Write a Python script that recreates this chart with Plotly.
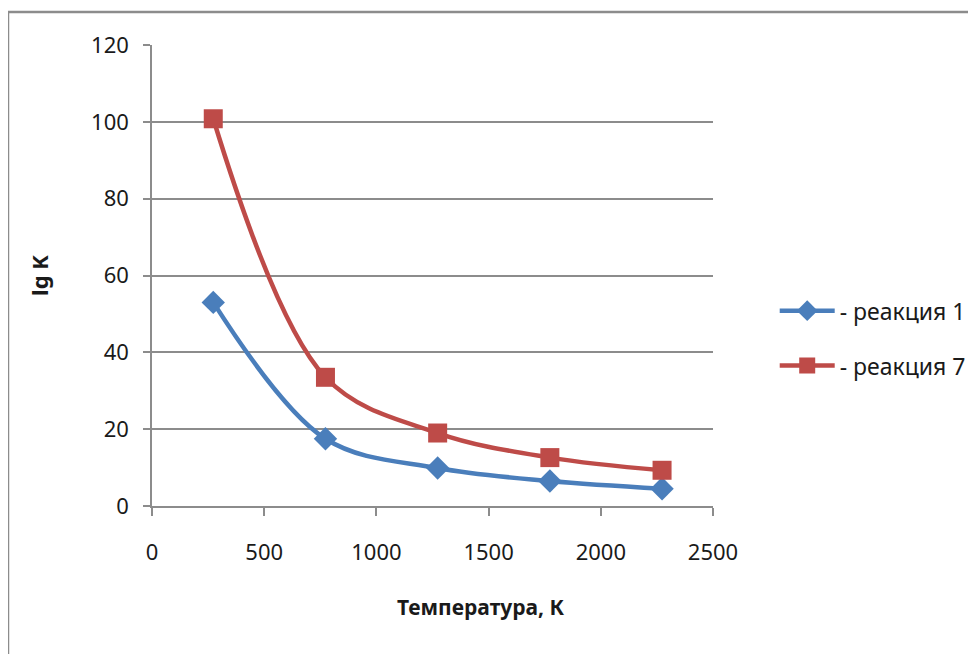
import plotly.graph_objects as go

# temperatures, K
temperature = [273, 773, 1273, 1773, 2273]
# lg K values
reaction_1 = [53.0, 17.5, 9.9, 6.5, 4.5]
reaction_7 = [100.8, 33.5, 19.0, 12.6, 9.3]

x_ticks = [0, 500, 1000, 1500, 2000, 2500]
y_ticks = [0, 20, 40, 60, 80, 100, 120]

FONT = "Noto Sans, Open Sans, sans-serif"

fig = go.Figure()

fig.add_trace(go.Scatter(
    x=temperature, y=reaction_1,
    mode='lines+markers',
    name='- реакция 1',
    legendgroup='r1',
    line=dict(color='#4A7EBB', width=4.5, shape='spline', smoothing=1.0),
    marker=dict(symbol='diamond', size=18, color='#4A7EBB'),
))

fig.add_trace(go.Scatter(
    x=temperature, y=reaction_7,
    mode='lines+markers',
    name='- реакция 7',
    legendgroup='r7',
    line=dict(color='#BE4B48', width=4.5, shape='spline', smoothing=1.0),
    marker=dict(symbol='square', size=19, color='#BE4B48'),
))

# frame lines of the chart area (left and top only visible)
for x0, y0, x1, y1 in [(-0.2567, 1.0716, 1.47, 1.0716), (-0.2567, 1.0716, -0.2567, -0.35)]:
    fig.add_shape(type='line', xref='paper', yref='paper',
                  x0=x0, y0=y0, x1=x1, y1=y1,
                  line=dict(color='#8C8C8C', width=2.5))

# x axis title sits right of the plot centre in the original
fig.add_annotation(
    text='<b>Температура, К</b>', xref='paper', yref='paper',
    x=0.586, y=-0.219, xanchor='center', yanchor='middle',
    showarrow=False, font=dict(family=FONT, size=21, color='#1a1a1a'),
)

fig.update_layout(
    width=976, height=654,
    margin=dict(l=144, r=271, t=37, b=156),
    paper_bgcolor='white',
    plot_bgcolor='white',
    font=dict(family=FONT, size=22, color='#1a1a1a'),
    legend=dict(
        x=1.11, y=0.364, xanchor='left', yanchor='middle',
        font=dict(family=FONT, size=23, color='#1a1a1a'),
        traceorder='grouped', tracegroupgap=22,
        itemwidth=55,
    ),
    xaxis=dict(
        range=[0, 2500],
        tickvals=x_ticks,
        showgrid=False,
        zeroline=False,
        showline=True, linecolor='#8C8C8C', linewidth=1.5,
        ticks='outside', ticklen=8, tickcolor='#8C8C8C', tickwidth=1.5,
        ticklabelstandoff=18,
    ),
    yaxis=dict(
        range=[0, 120],
        tickvals=y_ticks,
        showgrid=True, gridcolor='#8C8C8C', gridwidth=1.5,
        zeroline=False,
        showline=True, linecolor='#8C8C8C', linewidth=1.5,
        ticks='outside', ticklen=7, tickcolor='#8C8C8C', tickwidth=1.5,
        ticklabelstandoff=10,
        title=dict(text='<b>lg K</b>', font=dict(family=FONT, size=22), standoff=36),
    ),
    showlegend=True,
)

fig.write_html("out.html")
